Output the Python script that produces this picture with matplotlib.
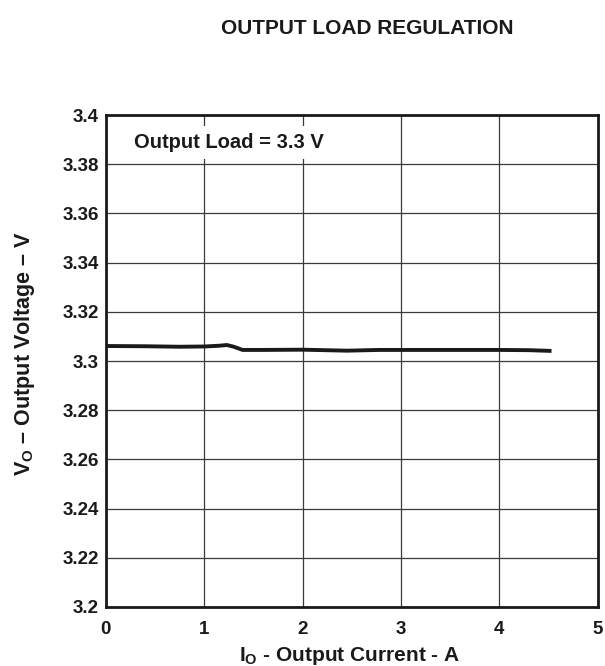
import matplotlib
matplotlib.use('Agg')
import matplotlib.pyplot as plt

plt.rcParams['font.family'] = ['Liberation Sans', 'DejaVu Sans']
plt.rcParams['font.weight'] = 'bold'
plt.rcParams['mathtext.fontset'] = 'custom'
plt.rcParams['mathtext.rm'] = 'Liberation Sans:bold'
plt.rcParams['mathtext.bf'] = 'Liberation Sans:bold'
plt.rcParams['mathtext.default'] = 'bf'

current = [0.0, 0.4, 0.75, 1.0, 1.15, 1.23, 1.3, 1.39, 1.6, 2.0, 2.45, 2.78, 3.2, 3.6, 4.0, 4.3, 4.53]
voltage = [3.3061, 3.3060, 3.3058, 3.3059, 3.3062, 3.3065, 3.3058, 3.3045, 3.3045, 3.3046, 3.3042, 3.3045, 3.3045, 3.3045, 3.3045, 3.3044, 3.3041]

x_ticks = [0, 1, 2, 3, 4, 5]
y_ticks = [3.2, 3.22, 3.24, 3.26, 3.28, 3.3, 3.32, 3.34, 3.36, 3.38, 3.4]
y_labels = ['3.2', '3.22', '3.24', '3.26', '3.28', '3.3', '3.32', '3.34', '3.36', '3.38', '3.4']

fig = plt.figure(figsize=(6.05, 6.66), dpi=100)
ax = fig.add_axes([0.175, 0.0886, 0.813, 0.7387])

ax.plot(current, voltage, color='#1a1a1a', lw=2.8, solid_capstyle='butt', zorder=3)

ax.set_xlim(0, 5)
ax.set_ylim(3.2, 3.4)
ax.set_xticks(x_ticks)
ax.set_yticks(y_ticks)
ax.set_yticklabels(y_labels)
ax.tick_params(length=0, labelsize=13.5, colors='#1a1a1a')
ax.tick_params(axis='y', pad=5)
ax.tick_params(axis='x', pad=10)
for lbl in ax.get_xticklabels() + ax.get_yticklabels():
    lbl.set_fontweight('bold')
ax.grid(True, color='#3a3a3a', lw=0.9, zorder=1)
ax.set_axisbelow(True)
for sp in ax.spines.values():
    sp.set_linewidth(2.0)
    sp.set_color('#1a1a1a')

ax.text(0.29, 3.3888, 'Output Load = 3.3 V', fontsize=14.5, fontweight='bold',
        va='center', ha='left', color='#1a1a1a', zorder=2,
        bbox=dict(facecolor='white', edgecolor='none', pad=5))

ax.set_xlabel(r'$\mathbf{I_O}$ - Output Current - A', fontsize=15,
              fontweight='bold', color='#1a1a1a')
ax.set_ylabel(r'$\mathbf{V_O}$ – Output Voltage – V', fontsize=15.5,
              fontweight='bold', color='#1a1a1a')
ax.xaxis.set_label_coords(0.495, -0.078)
ax.yaxis.set_label_coords(-0.141, 0.515)

fig.text(0.607, 0.957, 'OUTPUT LOAD REGULATION', ha='center', va='center',
         fontsize=15, fontweight='bold', color='#1a1a1a')

fig.savefig('out.png', dpi=100)
